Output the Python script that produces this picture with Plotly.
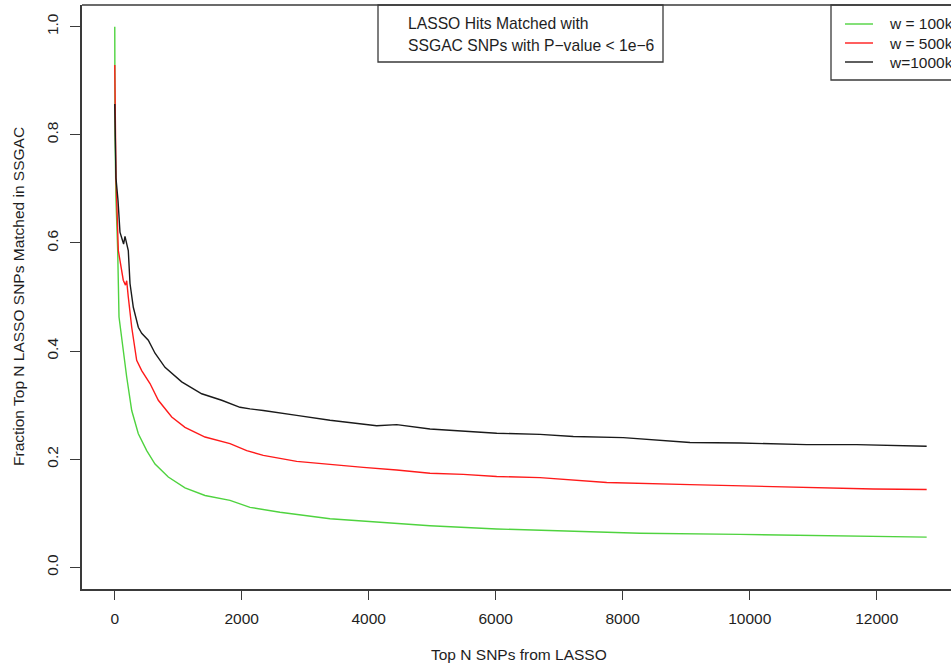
import plotly.graph_objects as go

# ---- data ----
x_100k = [1, 5, 20, 47, 68, 135, 189, 268, 372, 504, 635, 844, 1107, 1422, 1737, 1816,
          2131, 2603, 3391, 4178, 4965, 6016, 6698, 8273, 9847, 11422, 12787]
y_100k = [1.0, 0.80, 0.68, 0.586, 0.463, 0.401, 0.352, 0.290, 0.247, 0.216, 0.191, 0.167,
          0.147, 0.133, 0.125, 0.124, 0.111, 0.102, 0.090, 0.083, 0.077, 0.071, 0.069,
          0.063, 0.061, 0.059, 0.056]

x_500k = [1, 5, 20, 57, 135, 170, 189, 214, 268, 346, 425, 556, 687, 898, 1107, 1422, 1816,
          2079, 2340, 2866, 3391, 3915, 4441, 4965, 5490, 6016, 6698, 7748, 9060, 10110,
          10898, 11946, 12787]
y_500k = [0.929, 0.82, 0.72, 0.586, 0.531, 0.522, 0.530, 0.500, 0.444, 0.383, 0.364, 0.340,
          0.309, 0.278, 0.259, 0.241, 0.229, 0.216, 0.207, 0.196, 0.190, 0.185, 0.180,
          0.174, 0.172, 0.168, 0.166, 0.157, 0.153, 0.150, 0.148, 0.145, 0.144]

x_1000k = [1, 5, 20, 52, 83, 140, 162, 214, 241, 293, 372, 425, 529, 635, 792, 1055, 1370,
           1685, 1973, 2131, 2340, 2866, 3391, 4126, 4441, 4965, 5490, 6016, 6698, 7222,
           8010, 9060, 9847, 10898, 11685, 12787]
y_1000k = [0.857, 0.80, 0.72, 0.679, 0.620, 0.598, 0.612, 0.586, 0.525, 0.481, 0.444, 0.433,
           0.420, 0.396, 0.370, 0.343, 0.321, 0.309, 0.296, 0.293, 0.290, 0.281, 0.272,
           0.262, 0.264, 0.256, 0.252, 0.248, 0.246, 0.242, 0.240, 0.231, 0.230, 0.227,
           0.227, 0.224]

series_names = ["w = 100k", "w = 500k", "w=1000k"]
series_colors = ["#4fd33f", "#ff1a1a", "#1a1a1a"]
x_ticks = [0, 2000, 4000, 6000, 8000, 10000, 12000]
x_tick_text = ["0", "2000", "4000", "6000", "8000", "10000", "12000"]
y_ticks = [0.0, 0.2, 0.4, 0.6, 0.8, 1.0]
y_tick_text = ["0.0", "0.2", "0.4", "0.6", "0.8", "1.0"]
x_title = "Top N SNPs from LASSO"
y_title = "Fraction Top N LASSO SNPs Matched in SSGAC"
box_lines = ["LASSO Hits Matched with", "SSGAC SNPs with P\u2212value < 1e\u22126"]

FONT = "Liberation Sans, Arial, sans-serif"
AX = "#3a3a3a"
TXT = "#1e1e1e"

fig = go.Figure()
for xs, ys, name, col in zip([x_100k, x_500k, x_1000k], [y_100k, y_500k, y_1000k],
                             series_names, series_colors):
    fig.add_trace(go.Scatter(x=xs, y=ys, mode="lines", name=name,
                             line=dict(color=col, width=1.4), showlegend=False))

W, H = 951, 669
L, R, T, B = 82, 0, 5, 80
pw, ph = W - L - R, H - T - B

def px_x(p):
    return (p - L) / pw

def px_y(p):
    return (H - B - p) / ph

shapes = [
    dict(type="line", xref="paper", yref="paper", x0=0, x1=1.02, y0=1, y1=1,
         line=dict(color=AX, width=1.5)),
    dict(type="rect", xref="paper", yref="paper", x0=px_x(378), x1=px_x(663),
         y0=px_y(62), y1=1, line=dict(color=AX, width=1.3)),
    dict(type="rect", xref="paper", yref="paper", x0=px_x(831), x1=1.05,
         y0=px_y(80), y1=1, line=dict(color=AX, width=1.3)),
]
annotations = [
    dict(text=x_title, xref="paper", yref="paper", x=px_x(519), y=px_y(655),
         showarrow=False, xanchor="center", yanchor="middle",
         font=dict(family=FONT, size=15.5, color=TXT)),
    dict(text=y_title, xref="paper", yref="paper", x=px_x(18), y=px_y(297),
         showarrow=False, xanchor="center", yanchor="middle", textangle=-90,
         font=dict(family=FONT, size=15.5, color=TXT)),
]
for i, line in enumerate(box_lines):
    annotations.append(dict(text=line, xref="paper", yref="paper", x=px_x(406),
                            y=px_y(24 + 21 * i), showarrow=False, xanchor="left",
                            yanchor="middle", font=dict(family=FONT, size=15.7, color=TXT)))
rows = [24, 43, 62]
for name, col, r in zip(series_names, series_colors, rows):
    shapes.append(dict(type="line", xref="paper", yref="paper", x0=px_x(845), x1=px_x(873),
                       y0=px_y(r), y1=px_y(r), line=dict(color=col, width=1.4)))
    annotations.append(dict(text=name, xref="paper", yref="paper", x=px_x(887), y=px_y(r),
                            showarrow=False, xanchor="left", yanchor="middle",
                            font=dict(family=FONT, size=15.5, color=TXT)))

fig.update_layout(
    width=W, height=H,
    margin=dict(l=L, r=R, t=T, b=B, pad=0),
    paper_bgcolor="white", plot_bgcolor="white",
    font=dict(family=FONT, size=15, color=TXT),
    shapes=shapes, annotations=annotations,
    xaxis=dict(range=[-515, 13170], tickvals=x_ticks, ticktext=x_tick_text, ticks="outside",
               ticklen=9, tickwidth=1.3, tickcolor=AX, showline=True, linecolor=AX,
               linewidth=1.5, showgrid=False, zeroline=False, ticklabelstandoff=6,
               tickfont=dict(family=FONT, size=15.5, color=TXT)),
    yaxis=dict(range=[-0.04, 1.04], tickvals=y_ticks, ticktext=y_tick_text, ticks="outside",
               ticklen=10, tickwidth=1.3, tickcolor=AX, showline=True, linecolor=AX,
               linewidth=1.5, showgrid=False, zeroline=False, tickangle=-90,
               ticklabelstandoff=6, tickfont=dict(family=FONT, size=15.5, color=TXT)),
)

fig.write_html("out.html")
